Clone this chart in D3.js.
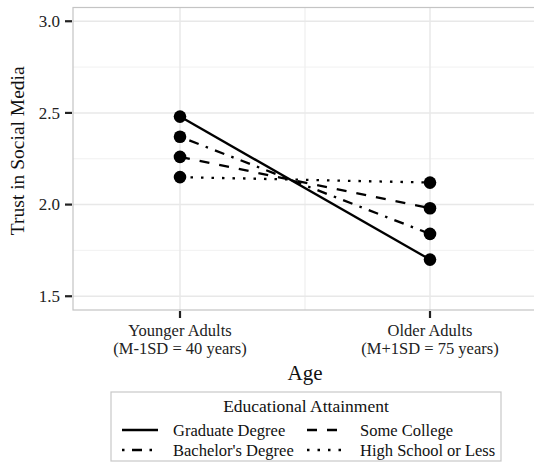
<!DOCTYPE html>
<html><head><meta charset="utf-8">
<script src="https://cdn.jsdelivr.net/npm/d3@7/dist/d3.min.js"></script>
<style>body{margin:0;background:#fff}svg text{font-family:"Liberation Serif","Times New Roman",serif}</style>
</head><body><svg id="c" width="534" height="462"></svg>
<script>
const ageGroups = ["Younger Adults\n(M-1SD = 40 years)", "Older Adults\n(M+1SD = 75 years)"];
const education = ["Graduate Degree", "Bachelor's Degree", "Some College", "High School or Less"];
const trustYounger = [2.48, 2.37, 2.26, 2.15];
const trustOlder = [1.70, 1.84, 1.98, 2.12];
const yTicks = [1.5, 2.0, 2.5, 3.0];
const yMinor = [1.75, 2.25, 2.75];
const dashes = ["none", "2.5,7.5,10,7.5", "10,10", "2.5,8"];

const svg = d3.select("#c");
const P = {l: 73, r: 537, t: 7.5, b: 310};
const x = d3.scalePoint().domain(ageGroups).range([P.l, P.r]).padding(0.428);
const y = d3.scaleLinear().domain([1.425, 3.075]).range([P.b, P.t]);
const xMinor = (x(ageGroups[0]) + x(ageGroups[1])) / 2;
const fmt = d3.format(".1f");

const g = svg.append("g");
// gridlines
g.selectAll(".ymin").data(yMinor).join("line")
  .attr("x1", P.l).attr("x2", P.r).attr("y1", d => y(d)).attr("y2", d => y(d))
  .attr("stroke", "#eeeeee").attr("stroke-width", 0.8);
g.append("line").attr("x1", xMinor).attr("x2", xMinor).attr("y1", P.t).attr("y2", P.b)
  .attr("stroke", "#eeeeee").attr("stroke-width", 1.2);
g.selectAll(".ymaj").data(yTicks).join("line")
  .attr("x1", P.l).attr("x2", P.r).attr("y1", d => y(d)).attr("y2", d => y(d))
  .attr("stroke", "#e8e8e8").attr("stroke-width", 1.5);
g.selectAll(".xmaj").data(ageGroups).join("line")
  .attr("x1", d => x(d)).attr("x2", d => x(d)).attr("y1", P.t).attr("y2", P.b)
  .attr("stroke", "#e8e8e8").attr("stroke-width", 1.5);

// y axis ticks + labels
svg.selectAll(".yt").data(yTicks).join("line")
  .attr("x1", P.l - 8).attr("x2", P.l - 1).attr("y1", d => y(d)).attr("y2", d => y(d))
  .attr("stroke", "#222").attr("stroke-width", 2.2);
svg.selectAll(".yl").data(yTicks).join("text")
  .attr("x", P.l - 13).attr("y", d => y(d)).attr("dy", "0.34em").attr("text-anchor", "end")
  .attr("font-size", 17).attr("fill", "#222").text(d => fmt(d));

// x axis ticks + labels
svg.selectAll(".xt").data(ageGroups).join("line")
  .attr("x1", d => x(d)).attr("x2", d => x(d)).attr("y1", P.b + 1).attr("y2", P.b + 8)
  .attr("stroke", "#222").attr("stroke-width", 2.2);
ageGroups.forEach(c => {
  const parts = c.split("\n");
  const t = svg.append("text").attr("text-anchor", "middle").attr("font-size", 16.5).attr("fill", "#222");
  parts.forEach((p, i) => t.append("tspan").attr("x", x(c)).attr("y", 336 + i * 18).text(p));
});

// panel border
svg.append("rect").attr("x", P.l).attr("y", P.t).attr("width", P.r - P.l).attr("height", P.b - P.t)
  .attr("fill", "none").attr("stroke", "#c4c4c4").attr("stroke-width", 1.2);

// lines and points
const series = education.map((e, i) => ({name: e, dash: dashes[i], vals: [trustYounger[i], trustOlder[i]]}));
const line = d3.line().x((d, i) => x(ageGroups[i])).y(d => y(d));
svg.selectAll(".ln").data(series).join("path")
  .attr("d", d => line(d.vals)).attr("fill", "none").attr("stroke", "#000")
  .attr("stroke-width", 2.3).attr("stroke-dasharray", d => d.dash);
series.forEach(s => {
  svg.selectAll(null).data(s.vals).join("circle")
    .attr("cx", (d, i) => x(ageGroups[i])).attr("cy", d => y(d)).attr("r", 6.3).attr("fill", "#000");
});

// axis titles
svg.append("text").attr("x", 305).attr("y", 380).attr("text-anchor", "middle")
  .attr("font-size", 21).attr("fill", "#111").text("Age");
svg.append("text").attr("transform", `translate(24,${(P.t + P.b) / 2 - 8}) rotate(-90)`).attr("text-anchor", "middle")
  .attr("font-size", 19.5).attr("fill", "#111").text("Trust in Social Media");

// legend
const L = svg.append("g");
L.append("rect").attr("x", 111).attr("y", 392).attr("width", 390).attr("height", 69)
  .attr("fill", "#fff").attr("stroke", "#c8c8c8").attr("stroke-width", 1.2);
L.append("text").attr("x", 306).attr("y", 412).attr("text-anchor", "middle")
  .attr("font-size", 17.5).attr("fill", "#111").text("Educational Attainment");
const pos = [{kx: 122, tx: 173, r: 0}, {kx: 122, tx: 173, r: 1}, {kx: 307, tx: 360, r: 0}, {kx: 307, tx: 360, r: 1}];
series.forEach((s, i) => {
  const p = pos[i];
  const ly = 430 + p.r * 20;
  L.append("line").attr("x1", p.kx).attr("x2", p.kx + 36).attr("y1", ly).attr("y2", ly)
    .attr("stroke", "#000").attr("stroke-width", 2.5).attr("stroke-dasharray", s.dash);
  L.append("text").attr("x", p.tx).attr("y", ly + 6).attr("font-size", 16.5).attr("fill", "#111").text(s.name);
});
</script></body></html>
